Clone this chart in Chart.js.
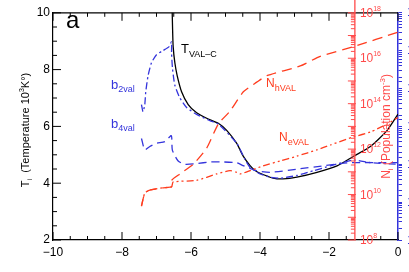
<!DOCTYPE html>
<html>
<head>
<meta charset="utf-8">
<script src="https://cdn.jsdelivr.net/npm/chart.js@4.4.1/dist/chart.umd.min.js"></script>
<style>
  html, body { margin: 0; padding: 0; background: #fff; }
  #wrap { width: 409px; height: 272px; }
</style>
</head>
<body>
<div id="wrap"><canvas id="c"></canvas></div>
<script>
const FONT = '"Liberation Sans", Arial, sans-serif';
const BLUE = '#3434dc';
const RED = '#ff3c1e';
const RED_AXIS = '#ff4a4a';

// x: log column mass
const tempX = [-6.55, -6.535, -6.517, -6.468, -6.401, -6.273, -6.081, -5.837, -5.5, -5.209, -4.965, -4.674, -4.491, -4.288, -4.142, -3.997, -3.619, -3.328, -2.93, -2.349, -1.767, -1.285, -0.8, -0.314, 0];
const tempVal = [10.3, 9.49, 8.81, 8.24, 7.79, 7.22, 6.77, 6.48, 6.26, 6.11, 5.86, 5.40, 4.96, 4.62, 4.45, 4.35, 4.18, 4.15, 4.21, 4.38, 4.61, 4.95, 5.29, 5.86, 6.43];

const b2X = [-7.436, -7.39, -7.34, -7.311, -7.244, -7.145, -7.0, -6.808, -6.634, -6.564, -6.564, -6.535, -6.468, -6.323, -6.128, -5.837, -5.451, -5.209, -4.674, -4.433, -4.288, -4.142, -3.997, -3.712, -3.422, -2.93, -2.448, -1.962, -1.285, -0.8, 0];
const b2Val = [37.5, 24.4, 37.5, 82, 219, 479, 783, 1009, 1276, 1714, 861, 330, 122, 56.6, 31.5, 20.8, 14.1, 11.6, 3.57, 1.34, 0.82, 0.676, 0.554, 0.456, 0.43, 0.505, 0.676, 0.908, 1.29, 1.10, 1.0];

const b4X = [-7.436, -7.34, -7.195, -7.0, -6.759, -6.57, -6.541, -6.372, -6.177, -5.837, -5.451, -5.064, -4.674, -4.491, -4.093, -3.706, -2.93, -2.166, -1.381, 0];
const b4Val = [4.80, 2.41, 2.94, 3.57, 3.95, 5.71, 2.37, 1.22, 1.0, 1.04, 1.15, 1.15, 1.10, 0.925, 0.676, 0.612, 0.743, 0.908, 1.10, 1.10];

const nhX = [-7.436, -7.34, -7.195, -6.808, -6.564, -6.564, -6.323, -5.936, -5.547, -5.209, -4.869, -4.483, -4.093, -3.802, -2.834, -2.253, -1.285, 0];
const nhVal = [3.08e9, 1.14e10, 1.58e10, 1.99e10, 2.19e10, 4.22e10, 8.06e10, 2.15e11, 1.10e12, 1.28e13, 4.70e13, 3.33e14, 8.89e14, 1.71e15, 4.57e15, 1.22e16, 3.24e16, 1.41e17];

const neX = [-7.436, -7.34, -7.195, -6.808, -6.564, -6.517, -5.837, -5.256, -4.869, -4.674, -4.578, -4.288, -3.91, -3.416, -2.93, -2.349, -1.962, -1.285, -0.8, -0.314, 0];
const neVal = [3.08e9, 1.14e10, 1.58e10, 1.99e10, 2.19e10, 3.57e10, 4.22e10, 8.06e10, 1.12e11, 9.52e10, 8.06e10, 1.12e11, 1.84e11, 3.00e11, 4.89e11, 9.34e11, 1.52e12, 3.47e12, 5.66e12, 1.28e13, 2.46e13];

const blueTickLabels = { '-2': '10⁻²', '-1': '10⁻¹', '0': '1.0', '1': '10¹', '2': '10²', '3': '10³', '4': '10⁴' };
const redTickExps = [8, 10, 12, 14, 16, 18];
const redAxisAt = -1.25;

const pts = (xs, ys) => xs.map((x, i) => ({ x: x, y: ys[i] }));

function richText(ctx, parts, x, y, angle, align, color) {
  ctx.save();
  ctx.translate(x, y);
  ctx.rotate(angle);
  ctx.fillStyle = color;
  ctx.textBaseline = 'alphabetic';
  ctx.textAlign = 'left';
  let w = 0;
  parts.forEach(p => { ctx.font = p.s + 'px ' + FONT; p.w = ctx.measureText(p.t).width; w += p.w; });
  let cx = align === 'center' ? -w / 2 : 0;
  parts.forEach(p => { ctx.font = p.s + 'px ' + FONT; ctx.fillText(p.t, cx, p.dy || 0); cx += p.w; });
  ctx.restore();
}

const decor = {
  id: 'decor',
  afterDraw(chart) {
    const { ctx, chartArea: a, scales } = chart;
    const xs = scales.x, yT = scales.y, yN = scales.yN;
    const seg = (x1, y1, x2, y2) => { ctx.beginPath(); ctx.moveTo(x1, y1); ctx.lineTo(x2, y2); ctx.stroke(); };
    ctx.save();
    ctx.strokeStyle = '#000';
    ctx.lineWidth = 1.2;
    seg(a.left, a.top, a.right, a.top);
    ctx.lineWidth = 1;
    for (let v = -10; v <= 0.001; v += 0.5) {
      const px = xs.getPixelForValue(v);
      const len = Math.abs(v % 2) < 0.01 ? 8 : 4;
      seg(px, a.bottom, px, a.bottom - len);
      seg(px, a.top, px, a.top + len);
    }
    for (let v = 2; v <= 10.001; v += 0.5) {
      const py = yT.getPixelForValue(v);
      const len = Math.abs(v % 2) < 0.01 ? 8 : 4;
      seg(a.left, py, a.left + len, py);
    }

    // red population axis inside the plot
    const rx = xs.getPixelForValue(redAxisAt);
    ctx.strokeStyle = RED_AXIS;
    ctx.lineWidth = 1.3;
    seg(rx, 0, rx, a.bottom);
    ctx.lineWidth = 1;
    for (let e = 8; e <= 18; e++) {
      const py = yN.getPixelForValue(Math.pow(10, e));
      seg(rx - 7, py, rx + 1, py);
      if (e < 18) {
        for (let m = 2; m <= 9; m++) {
          const pm = yN.getPixelForValue(m * Math.pow(10, e));
          seg(rx - 4, pm, rx, pm);
        }
      }
    }
    redTickExps.forEach(e => {
      const py = yN.getPixelForValue(Math.pow(10, e));
      richText(ctx, [{ t: '10', s: 12 }, { t: String(e), s: 7, dy: -6 }], rx + 5, py + 4, 0, 'left', RED_AXIS);
    });
    richText(ctx, [{ t: 'N', s: 12 }, { t: 'i', s: 8, dy: 3 }, { t: ' (Population cm', s: 12 }, { t: '-3', s: 8, dy: -5 }, { t: ')', s: 12 }],
      390, a.top + (a.bottom - a.top) / 2, -Math.PI / 2, 'center', RED_AXIS);

    // left title
    richText(ctx, [{ t: 'T', s: 11 }, { t: 'i', s: 7, dy: 3 }, { t: '  (Temperature 10', s: 11 }, { t: '3', s: 7, dy: -5 }, { t: 'K°)', s: 11 }],
      29, 130, -Math.PI / 2, 'center', '#000');

    // curve labels
    richText(ctx, [{ t: 'a', s: 24 }], 66, 28, 0, 'left', '#000');
    richText(ctx, [{ t: 'T', s: 13 }, { t: 'VAL\u2013C', s: 9, dy: 4 }], 181, 53, 0, 'left', '#000');
    richText(ctx, [{ t: 'b', s: 13 }, { t: '2val', s: 9, dy: 3 }], 111, 89, 0, 'left', BLUE);
    richText(ctx, [{ t: 'b', s: 13 }, { t: '4val', s: 9, dy: 3 }], 111, 128, 0, 'left', BLUE);
    richText(ctx, [{ t: 'N', s: 12 }, { t: 'hVAL', s: 9, dy: 4 }], 266, 87, 0, 'left', RED);
    richText(ctx, [{ t: 'N', s: 12 }, { t: 'eVAL', s: 9, dy: 4 }], 279, 141, 0, 'left', RED);
    ctx.restore();
  }
};

const line = (data, axis, color, dash) => ({
  data: data,
  yAxisID: axis,
  borderColor: color,
  borderWidth: 1.3,
  borderDash: dash,
  showLine: true,
  pointRadius: 0,
  tension: 0.2,
  fill: false,
});

new Chart(document.getElementById('c'), {
  type: 'scatter',
  data: {
    datasets: [
      line(pts(nhX, nhVal), 'yN', RED, [10, 6]),
      line(pts(neX, neVal), 'yN', RED, [7, 3, 2, 3, 2, 3]),
      line(pts(b4X, b4Val), 'yB', BLUE, [8, 5]),
      line(pts(b2X, b2Val), 'yB', BLUE, [7, 3, 2, 3]),
      line(pts(tempX, tempVal), 'y', '#000', []),
    ],
  },
  options: {
    responsive: true,
    maintainAspectRatio: false,
    animation: false,
    layout: { padding: { top: 5, left: 0, right: 0, bottom: 0 } },
    plugins: { legend: { display: false }, tooltip: { enabled: false } },
    scales: {
      x: {
        type: 'linear',
        min: -10,
        max: 0,
        afterFit: (s) => { s.height = 32; },
        border: { display: true, color: '#000', width: 1.2 },
        grid: { display: true, drawOnChartArea: false, drawTicks: false },
        ticks: {
          stepSize: 2,
          padding: 5,
          color: '#000',
          font: { family: FONT, size: 12 },
          maxRotation: 0,
          callback: (v) => String(v).replace('-', '\u2212'),
        },
      },
      y: {
        type: 'linear',
        position: 'left',
        min: 2,
        max: 10,
        afterFit: (s) => { s.width = 53; },
        border: { display: true, color: '#000', width: 1.2 },
        grid: { display: true, drawOnChartArea: false, drawTicks: false },
        ticks: { stepSize: 2, padding: 3, color: '#000', font: { family: FONT, size: 12 } },
      },
      yB: {
        type: 'logarithmic',
        position: 'right',
        min: 0.01,
        max: 10000,
        afterFit: (s) => { s.width = 11; },
        border: { display: true, color: BLUE, width: 1.5 },
        grid: { display: true, drawOnChartArea: false, drawTicks: true, tickLength: 4, color: BLUE },
        ticks: {
          autoSkip: false,
          padding: 5,
          color: BLUE,
          font: { family: FONT, size: 13 },
          callback: (v) => {
            const e = Math.round(Math.log10(v));
            if (Math.abs(v - Math.pow(10, e)) > 1e-6 * v) return '';
            return blueTickLabels[String(e)] || '';
          },
        },
      },
      yN: {
        type: 'logarithmic',
        display: false,
        min: 1e8,
        max: 1e18,
      },
    },
  },
  plugins: [decor],
});
</script>
</body>
</html>
